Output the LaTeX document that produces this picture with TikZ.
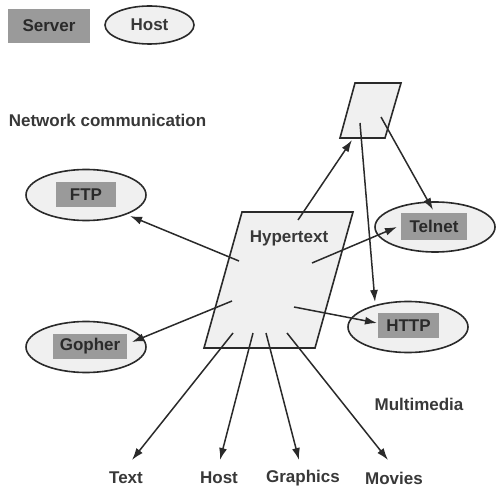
\documentclass[tikz,border=0pt]{standalone}
\usepackage{fontspec}
\setmainfont{Liberation Sans}
\usetikzlibrary{shapes.geometric,arrows.meta}
\definecolor{ink}{HTML}{2A2A2A}
\definecolor{txtc}{HTML}{383838}
\definecolor{srv}{HTML}{9A9A9A}
\definecolor{hostfill}{HTML}{F0F0F0}
\tikzset{
  lbl/.style={font=\fontsize{17}{20}\selectfont\bfseries, text=txtc, inner sep=0pt},
  hostnode/.style={ellipse, draw=ink, line width=1.6pt, fill=hostfill, inner sep=0pt},
  srvbox/.style={rectangle, fill=srv, draw=none, inner sep=0pt, font=\fontsize{17}{20}\selectfont\bfseries, text=ink},
  parabox/.style={draw=ink, line width=1.6pt, fill=hostfill},
  arr/.style={draw=ink, line width=1.5pt, -{Latex[length=12pt,width=8pt]}},
}
\begin{document}
\begin{tikzpicture}[x=1pt,y=-1pt]
\useasboundingbox (0,0) rectangle (500,494);
% legend
\node[srvbox, minimum width=82pt, minimum height=34pt] (legserver) at (49,26) {Server};
\node[hostnode, minimum width=89pt, minimum height=38pt, lbl] (leghost) at (149.5,25) {Host};
\node[lbl] (netcomm) at (107.5,120) {Network communication};
\node[lbl] (multimedia) at (419,404) {Multimedia};
% parallelograms
\draw[parabox] (355,83) -- (401,83) -- (385,138) -- (340,138) -- cycle;
\draw[parabox] (242,212) -- (353,212) -- (315,348) -- (204,348) -- cycle;
\node[lbl] (hyper) at (289,238) {Hypertext};
% hosts
\node[hostnode, minimum width=120pt, minimum height=51pt] (ftp) at (86,195) {};
\node[srvbox, minimum width=60pt, minimum height=25pt] (ftpbox) at (86,194.5) {FTP};
\node[hostnode, minimum width=120pt, minimum height=51pt] (gopher) at (86,347) {};
\node[srvbox, minimum width=74pt, minimum height=25pt] (gopherbox) at (90,346.5) {Gopher};
\node[hostnode, minimum width=120pt, minimum height=50pt] (telnet) at (435,227) {};
\node[srvbox, minimum width=66pt, minimum height=27pt] (telnetbox) at (434,226.5) {Telnet};
\node[hostnode, minimum width=120pt, minimum height=51pt] (http) at (408,327) {};
\node[srvbox, minimum width=61pt, minimum height=25pt] (httpbox) at (408.5,325.5) {HTTP};
% bottom labels
\node[lbl] (txt) at (126,478) {Text};
\node[lbl] (hst) at (219,478) {Host};
\node[lbl] (gfx) at (303,478) {Graphics};
\node[lbl] (mov) at (394,478) {Movies};
% start coordinates
\coordinate (hA) at (239,261);
\coordinate (hB) at (232,301);
\coordinate (hC) at (298,220);
\coordinate (hD) at (312,263);
\coordinate (hE) at (294,307);
\coordinate (b1) at (233,333);
\coordinate (b2) at (253,333);
\coordinate (b3) at (266,333);
\coordinate (b4) at (287,333);
\coordinate (tA) at (381,117);
\coordinate (tB) at (360,123);
\coordinate (topTip) at (352,140);
% tip coordinates
\coordinate (ftpTip) at (130,216);
\coordinate (gopherTip) at (132,342);
\coordinate (telnetTipA) at (397,227);
\coordinate (telnetTipB) at (433,210);
\coordinate (httpTipA) at (377,323);
\coordinate (httpTipB) at (375,302);
\coordinate (tTip) at (132,460);
\coordinate (hTip) at (220,460);
\coordinate (gTip) at (299,460);
\coordinate (mTip) at (388,460);
% arrows
\draw[arr] (hA) -- (ftpTip);
\draw[arr] (hB) -- (gopherTip);
\draw[arr] (hC) -- (topTip);
\draw[arr] (hD) -- (telnetTipA);
\draw[arr] (hE) -- (httpTipA);
\draw[arr] (tA) -- (telnetTipB);
\draw[arr] (tB) -- (httpTipB);
\draw[arr] (b1) -- (tTip);
\draw[arr] (b2) -- (hTip);
\draw[arr] (b3) -- (gTip);
\draw[arr] (b4) -- (mTip);
\end{tikzpicture}
\end{document}
